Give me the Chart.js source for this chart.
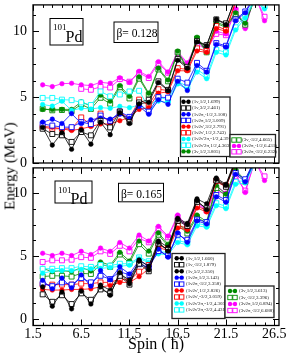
<!DOCTYPE html>
<html>
<head>
<meta charset="utf-8">
<script src="https://cdn.jsdelivr.net/npm/chart.js@4.4.0/dist/chart.umd.min.js"></script>
<style>
  html, body { margin: 0; padding: 0; background: #fff; }
  #wrap { position: relative; width: 286px; height: 355px; overflow: hidden; }
  #topChart { position: absolute; left: 0; top: 0; }
  #botChart { position: absolute; left: 0; top: 163px; }
  #ytitle { position: absolute; left: 10px; top: 166px; transform: translate(-50%, -50%) rotate(-90deg);
            font: 15px "Liberation Serif"; white-space: nowrap; color: #000; }
</style>
</head>
<body>
<div id="wrap">
  <canvas id="topChart" width="286" height="180"></canvas>
  <canvas id="botChart" width="286" height="192"></canvas>
  <div id="ytitle">Energy (MeV)</div>
</div>
<script>
Chart.defaults.font.family = '"Liberation Serif", "DejaVu Serif", serif';
Chart.defaults.color = '#000';

// spin values (hbar), shared by every band
const spins = [2.5, 3.5, 4.5, 5.5, 6.5, 7.5, 8.5, 9.5, 10.5, 11.5, 12.5, 13.5,
               14.5, 15.5, 16.5, 17.5, 18.5, 19.5, 20.5, 21.5, 22.5, 23.5, 24.5, 25.5];

const xMajor = [1.5, 6.5, 11.5, 16.5, 21.5, 26.5];
const yMajor = [0, 5, 10];

// upper panel, beta = 0.128
const topBlackFilled = [2.70,1.36,2.30,1.04,2.50,1.43,3.10,2.15,3.83,3.00,4.50,4.60,6.10,5.50,7.80,7.20,9.20,8.90,10.90,10.50,12.60,null,null,null];
const topBlackOpen   = [2.60,2.20,2.10,1.60,2.35,2.10,3.20,2.70,3.90,3.10,4.60,4.80,6.20,5.55,7.90,7.30,9.25,8.95,10.90,10.60,12.50,null,null,null];
const topBlueFilled  = [3.10,3.33,3.00,3.75,3.00,3.28,3.41,3.33,3.70,3.40,4.30,3.70,4.80,4.45,6.20,5.50,7.40,6.90,9.00,8.80,10.80,11.40,12.60,null];
const topBlueOpen    = [2.96,2.84,2.72,2.72,3.10,2.95,3.60,3.20,3.90,3.50,4.50,3.90,5.00,4.96,6.40,6.10,7.60,7.00,9.10,8.90,10.90,11.50,12.70,null];
const topRedFilled   = [2.77,2.72,2.59,2.47,2.59,2.77,2.96,2.96,3.21,3.46,4.07,4.20,5.30,5.40,7.00,7.00,8.50,8.40,10.20,10.00,12.20,null,null,null];
const topRedOpen     = [2.72,2.60,2.60,2.60,3.46,2.91,3.75,3.00,3.90,3.33,4.81,4.40,5.60,5.50,7.20,7.10,8.70,8.50,10.40,10.10,12.30,null,null,null];
const topCyanFilled  = [4.44,4.32,4.69,4.00,4.15,4.10,4.20,4.15,4.30,4.20,4.40,3.90,4.70,4.60,6.00,5.60,6.90,6.40,8.40,8.20,10.10,11.00,12.30,11.70];
const topCyanOpen    = [4.94,4.94,4.81,4.77,4.60,4.40,5.43,5.06,5.20,5.43,5.48,4.20,5.00,4.80,6.20,5.80,7.10,6.60,8.60,8.40,10.30,11.20,12.40,11.90];
const topGreenFilled = [4.07,4.07,4.07,4.07,4.64,4.32,5.14,4.69,5.88,5.06,6.54,5.30,7.20,6.30,8.50,7.20,9.55,8.50,10.70,10.40,11.40,10.60,12.60,null];
const topGreenOpen   = [4.12,4.00,4.02,3.95,4.45,4.10,4.95,4.50,5.75,4.90,6.40,5.20,7.10,6.20,8.40,7.10,9.45,8.40,10.60,10.30,11.30,10.50,12.50,null];
const topMagFilled   = [5.93,5.80,6.02,6.05,5.93,5.88,6.12,6.05,6.47,6.12,6.96,6.57,7.69,6.90,8.45,7.60,9.20,8.70,10.00,9.80,11.70,10.20,12.80,10.80];
const topMagOpen     = [null,null,null,null,5.63,5.56,5.78,5.73,6.37,6.17,6.84,6.45,7.55,6.85,8.35,7.50,9.05,8.60,9.80,9.70,11.60,10.40,12.70,11.10];

// lower panel, beta = 0.165
const botBlackFilled  = [2.56,1.03,2.15,0.82,2.23,1.20,2.56,1.90,3.69,2.82,4.60,3.90,6.10,5.40,7.90,7.50,9.40,8.70,11.10,10.60,12.60,null,null,null];
const botBlackOpen    = [1.97,1.38,1.90,1.20,2.05,1.54,2.36,2.05,3.44,2.74,4.40,3.80,6.00,5.50,7.80,7.40,9.30,8.80,11.00,10.50,12.50,null,null,null];
const botBlackFilled2 = [null,null,null,null,null,null,2.70,2.30,3.60,3.10,4.70,4.20,6.20,5.70,8.00,7.60,9.54,9.15,11.20,10.70,12.70,null,null,null];
const botBlueFilled   = [3.08,2.41,3.26,2.49,3.51,2.62,3.85,3.13,4.15,3.59,4.67,4.20,5.56,4.92,6.85,6.10,7.80,7.55,9.70,9.28,11.50,10.90,12.60,null];
const botBlueOpen     = [2.82,2.62,2.92,2.74,3.26,2.92,3.44,3.18,3.77,3.51,4.36,4.10,5.40,5.05,6.70,6.30,7.90,7.70,9.85,9.45,11.60,11.10,12.70,null];
const botRedFilled    = [2.36,2.31,2.31,2.36,2.36,2.41,2.56,2.67,2.92,2.92,3.38,4.00,5.69,5.44,7.23,7.10,8.82,8.51,10.90,10.50,12.40,null,null,null];
const botRedOpen      = [2.74,2.74,2.74,2.74,2.82,2.82,2.92,2.92,3.18,3.08,3.77,4.30,5.85,5.60,7.40,7.25,8.95,8.65,11.00,10.60,12.50,null,null,null];
const botCyanFilled   = [3.64,3.82,3.85,3.85,3.95,4.00,4.03,4.10,4.20,4.28,4.80,4.50,5.18,5.10,6.08,5.90,7.40,7.30,9.00,8.77,10.70,10.80,12.30,null];
const botCyanOpen     = [4.00,4.00,4.05,4.05,4.20,4.15,4.30,4.25,4.40,4.40,4.90,4.60,5.35,5.30,6.25,6.05,7.60,7.45,9.20,8.95,10.90,11.00,12.40,null];
const botGreenFilled  = [4.03,3.77,3.85,3.77,4.10,3.82,4.54,4.28,5.30,4.62,6.20,5.40,6.85,5.95,7.62,6.97,8.26,7.74,10.60,9.92,11.85,11.00,12.60,null];
const botGreenOpen    = [3.38,3.44,3.44,3.38,3.64,3.59,4.36,4.15,5.13,4.46,5.95,5.20,6.70,5.80,7.50,6.80,8.10,7.60,10.40,9.80,11.70,10.90,12.50,null];
const botMagFilled    = [5.23,5.05,5.23,5.05,5.38,5.13,5.64,5.38,6.08,5.64,6.67,6.20,7.36,6.59,8.26,7.36,9.28,8.64,10.56,10.00,11.50,10.05,12.60,11.00];
const botMagOpen      = [4.54,4.67,4.67,4.72,4.92,4.87,5.38,5.18,5.82,5.38,6.41,6.10,7.20,6.50,8.10,7.20,9.15,8.60,10.20,9.90,11.33,10.20,12.50,11.33];

// legend texts
const topLegendA = ['(1ν,1/2,1.699)', '(1ν,3/2,2.461)', '(1ν2π,-1/2,3.108)', '(1ν2π,1/2,3.009)',
                    '(1ν2ν\',3/2,2.791)', '(1ν2ν\',1/2,2.743)', '(1ν2ν\'2π,-1/2,4.391)',
                    '(1ν2ν\'2π,1/2,4.363)', '(3ν,1/2,3.805)'];
const topLegendB = ['(3ν,-3/2,4.665)', '(3ν2π,-1/2,6.431)', '(3ν2π,-3/2,6.232)'];
const botLegendA = ['(1ν,1/2,1.660)', '(1ν,-3/2,1.879)', '(1ν,5/2,2.350)', '(1ν2π,1/2,3.143)',
                    '(1ν2π,-3/2,3.358)', '(1ν2ν\',1/2,2.826)', '(1ν2ν\',-3/2,3.059)',
                    '(1ν2ν\'2π,-1/2,4.305)', '(1ν2ν\'2π,-3/2,4.431)'];
const botLegendB = ['(3ν,1/2,3.613)', '(3ν,-3/2,3.396)', '(3ν2π,1/2,6.894)', '(3ν2π,-3/2,6.688)'];

const BLACK = '#000000', BLUE = '#0000ff', RED = '#ff0000', CYAN = '#00ffff',
      GREEN = '#008b00', MAGENTA = '#ff00ff';

const topBands = [
  [topBlackFilled, BLACK, false], [topBlackOpen, BLACK, true],
  [topBlueFilled, BLUE, false], [topBlueOpen, BLUE, true],
  [topRedFilled, RED, false], [topRedOpen, RED, true],
  [topCyanFilled, CYAN, false], [topCyanOpen, CYAN, true],
  [topGreenFilled, GREEN, false],
  [topGreenOpen, GREEN, true], [topMagFilled, MAGENTA, false], [topMagOpen, MAGENTA, true]
];
const botBands = [
  [botBlackFilled, BLACK, false], [botBlackOpen, BLACK, true], [botBlackFilled2, BLACK, false],
  [botBlueFilled, BLUE, false], [botBlueOpen, BLUE, true],
  [botRedFilled, RED, false], [botRedOpen, RED, true],
  [botCyanFilled, CYAN, false], [botCyanOpen, CYAN, true],
  [botGreenFilled, GREEN, false], [botGreenOpen, GREEN, true],
  [botMagFilled, MAGENTA, false], [botMagOpen, MAGENTA, true]
];

function makeSet(values, color, open) {
  const pts = [];
  spins.forEach((s, i) => { if (values[i] !== null) pts.push({ x: s, y: values[i] }); });
  return {
    data: pts,
    borderColor: color,
    borderWidth: 0.8,
    pointStyle: open ? 'rect' : 'circle',
    pointRadius: open ? 3.5 : 2.3,
    pointBorderColor: color,
    pointBackgroundColor: open ? '#ffffff' : color,
    pointBorderWidth: open ? 0.9 : 0.5,
    clip: 0,
    tension: 0
  };
}

function drawMarker(ctx, x, y, color, open) {
  if (open) {
    ctx.fillStyle = '#fff';
    ctx.strokeStyle = color;
    ctx.lineWidth = 0.9;
    ctx.fillRect(x - 2.2, y - 2.2, 4.4, 4.4);
    ctx.strokeRect(x - 2.2, y - 2.2, 4.4, 4.4);
  } else {
    ctx.fillStyle = color;
    ctx.beginPath();
    ctx.arc(x, y, 2.2, 0, Math.PI * 2);
    ctx.fill();
  }
}

// frame with inward ticks on all four sides
const frame = {
  id: 'frame',
  afterDatasetsDraw(chart) {
    const { ctx, chartArea: a, scales } = chart;
    const xs = scales.x, ys = scales.y;
    ctx.save();
    ctx.strokeStyle = '#000';
    ctx.lineWidth = 1;
    ctx.beginPath();
    for (let v = 1.5; v <= 26.5; v += 1) {
      const len = (v - 1.5) % 5 === 0 ? 6 : 3;
      const px = Math.round(xs.getPixelForValue(v)) + 0.5;
      ctx.moveTo(px, a.top); ctx.lineTo(px, a.top + len);
      ctx.moveTo(px, a.bottom); ctx.lineTo(px, a.bottom - len);
    }
    for (let v = Math.ceil(ys.min / 1.25) * 1.25; v <= ys.max; v += 1.25) {
      const len = v % 5 === 0 ? 6 : 3;
      const py = Math.round(ys.getPixelForValue(v)) + 0.5;
      ctx.moveTo(a.left, py); ctx.lineTo(a.left + len, py);
      ctx.moveTo(a.right, py); ctx.lineTo(a.right - len, py);
    }
    ctx.stroke();
    ctx.lineWidth = 1.3;
    ctx.strokeRect(a.left, a.top, a.right - a.left, a.bottom - a.top);
    ctx.restore();
  }
};

// nucleus / deformation boxes and the two legend boxes
const notes = {
  id: 'notes',
  afterDraw(chart, args, o) {
    const ctx = chart.ctx;
    const serif = '"Liberation Serif", serif';
    ctx.save();
    ctx.strokeStyle = '#000';
    ctx.lineWidth = 1;
    ctx.fillStyle = '#000';
    ctx.textBaseline = 'alphabetic';
    const n = o.nucleus;
    ctx.strokeRect(n.x, n.y, n.w, n.h);
    ctx.font = '9px ' + serif;
    ctx.fillText('101', n.x + 3, n.y + 11.5);
    ctx.font = '16px ' + serif;
    ctx.fillText('Pd', n.x + 15.5, n.y + 23);
    const b = o.beta;
    ctx.strokeRect(b.x, b.y, b.w, b.h);
    ctx.font = '11.5px ' + serif;
    ctx.fillText(b.text, b.x + 2.5, b.y + 15);

    o.legends.forEach(lg => {
      ctx.fillStyle = '#fff';
      ctx.fillRect(lg.x, lg.y, lg.w, lg.h);
      ctx.strokeStyle = '#222';
      ctx.lineWidth = 1.3;
      ctx.strokeRect(lg.x, lg.y, lg.w, lg.h);
      lg.items.forEach((it, i) => {
        const y = lg.y0 + i * lg.dy;
        const band = lg.bands[i];
        ctx.strokeStyle = band[1];
        ctx.lineWidth = 0.8;
        ctx.beginPath();
        ctx.moveTo(lg.mx, y); ctx.lineTo(lg.mx + 5, y);
        ctx.stroke();
        drawMarker(ctx, lg.mx, y, band[1], band[2]);
        drawMarker(ctx, lg.mx + 5, y, band[1], band[2]);
        ctx.fillStyle = '#222';
        ctx.font = '5px ' + serif;
        ctx.textBaseline = 'middle';
        ctx.fillText(it, lg.tx, y);
      });
    });
    ctx.restore();
  }
};

function yScale(min, showX) {
  return {
    min: min, max: 12,
    afterBuildTicks: s => { s.ticks = yMajor.map(v => ({ value: v })); },
    ticks: { padding: 6, font: { size: 14 }, color: '#000' },
    grid: { display: false, drawTicks: false },
    border: { display: false },
    afterFit: s => { s.width = 33; s.paddingTop = 0; s.paddingBottom = 0; }
  };
}

new Chart(document.getElementById('topChart'), {
  type: 'line',
  data: { datasets: topBands.map(b => makeSet(b[0], b[1], b[2])) },
  options: {
    responsive: false,
    animation: false,
    layout: { padding: { top: 1, right: 7, bottom: 17, left: 0 } },
    plugins: {
      legend: { display: false },
      tooltip: { enabled: false },
      notes: {
        nucleus: { x: 50, y: 18.5, w: 33, h: 26.5 },
        beta: { x: 114, y: 22, w: 44, h: 20.5, text: 'β= 0.128' },
        legends: [
          { x: 180.5, y: 97, w: 49.5, h: 59.5, y0: 101.8, dy: 6.2, mx: 183.5, tx: 192,
            items: topLegendA, bands: topBands.slice(0, 9) },
          { x: 230, y: 134.5, w: 45.5, h: 22.5, y0: 140, dy: 5.9, mx: 234, tx: 242,
            items: topLegendB, bands: topBands.slice(9) }
        ]
      }
    },
    scales: {
      x: {
        type: 'linear', min: 1.5, max: 27,
        ticks: { display: false },
        grid: { display: false, drawTicks: false },
        border: { display: false },
        afterFit: s => { s.height = 0; s.paddingLeft = 0; s.paddingRight = 0; }
      },
      y: yScale(0)
    }
  },
  plugins: [frame, notes]
});

new Chart(document.getElementById('botChart'), {
  type: 'line',
  data: { datasets: botBands.map(b => makeSet(b[0], b[1], b[2])) },
  options: {
    responsive: false,
    animation: false,
    layout: { padding: { top: 0.5, right: 7, bottom: 0, left: 0 } },
    plugins: {
      legend: { display: false },
      tooltip: { enabled: false },
      notes: {
        nucleus: { x: 55, y: 18, w: 37, h: 22 },
        beta: { x: 118.5, y: 20.3, w: 45, h: 18.5, text: 'β= 0.165' },
        legends: [
          { x: 172, y: 90.5, w: 53, h: 65, y0: 95.3, dy: 6.45, mx: 176.7, tx: 186,
            items: botLegendA, bands: botBands.slice(0, 9) },
          { x: 225, y: 123, w: 49, h: 31.5, y0: 128, dy: 6.5, mx: 230, tx: 239,
            items: botLegendB, bands: botBands.slice(9) }
        ]
      }
    },
    scales: {
      x: {
        type: 'linear', min: 1.5, max: 27,
        afterBuildTicks: s => { s.ticks = xMajor.map(v => ({ value: v })); },
        ticks: { padding: 0, font: { size: 14 }, color: '#000', maxRotation: 0, autoSkip: false,
                 callback: v => Number(v).toFixed(1) },
        grid: { display: false, drawTicks: false },
        border: { display: false },
        title: { display: true, text: 'Spin ( ħ)', font: { size: 16, lineHeight: 1 },
                 padding: { top: 0, bottom: 2 }, color: '#000' },
        afterFit: s => { s.height = 29.5; s.paddingLeft = 0; s.paddingRight = 0; }
      },
      y: yScale(-0.5)
    }
  },
  plugins: [frame, notes]
});
</script>
</body>
</html>
